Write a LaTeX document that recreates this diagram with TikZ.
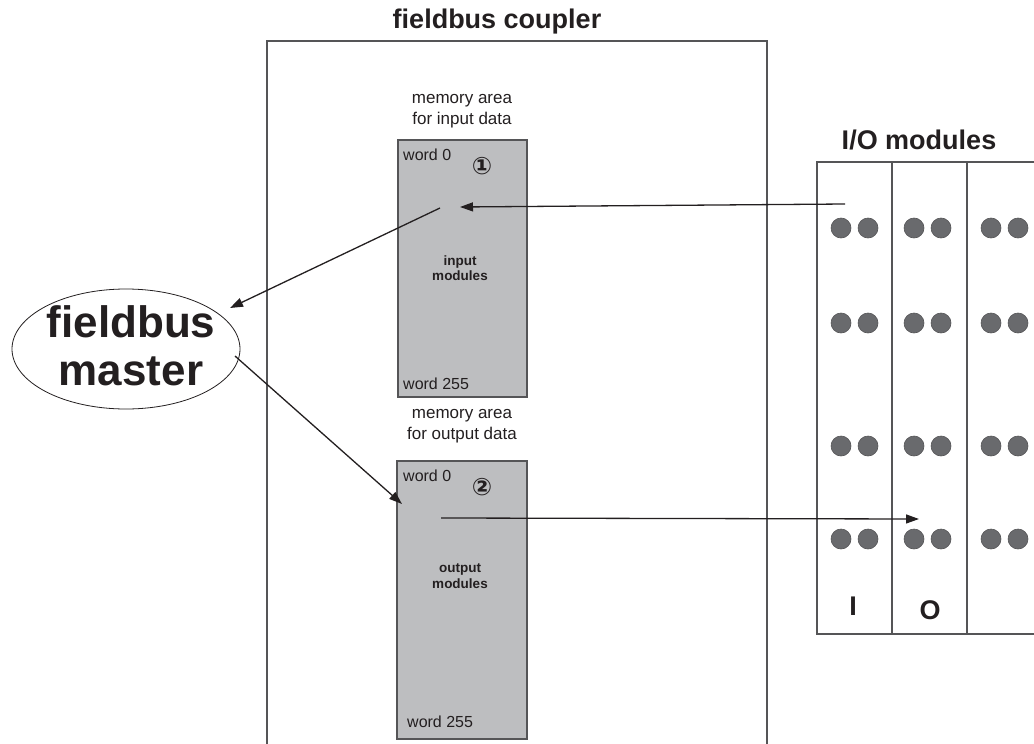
\documentclass[tikz,border=0pt]{standalone}
\usepackage{fontspec}
\setmainfont{Liberation Sans}
\newfontfamily\dejavu{DejaVu Sans}
\usetikzlibrary{arrows.meta,shapes.geometric}
\definecolor{boxgray}{RGB}{189,190,192}
\definecolor{edgegray}{RGB}{85,85,87}
\definecolor{dotgray}{RGB}{105,106,109}
\definecolor{txt}{RGB}{35,31,32}
\begin{document}
\begin{tikzpicture}[x=1pt,y=-1pt,
  frame/.style={draw=edgegray, line width=1.2pt},
  membox/.style={draw=edgegray, fill=boxgray, line width=1.5pt, anchor=north west, inner sep=0},
  lbl/.style={font=\fontsize{17}{21}\selectfont, text=txt, inner sep=0, align=center},
  wlbl/.style={font=\fontsize{16}{19}\selectfont, text=txt, inner sep=0, anchor=west},
  mlbl/.style={font=\bfseries\fontsize{13.5}{15.5}\selectfont, text=txt, inner sep=0, align=center},
  title/.style={font=\bfseries\fontsize{27}{30}\selectfont, text=txt, inner sep=0},
  big/.style={font=\bfseries\fontsize{27}{30}\selectfont, text=txt, inner sep=0},
  num/.style={font=\dejavu\bfseries\fontsize{24}{26}\selectfont, text=txt, inner sep=0},
  arr/.style={-{Triangle[length=13pt,width=9pt]}, line width=1.3pt, draw=txt},
  dot/.style={circle, draw=edgegray, fill=dotgray, line width=0.6pt, minimum size=20pt, inner sep=0}]
\useasboundingbox (0,0) rectangle (1034,744);
% fieldbus coupler frame
\node[title] (ctitle) at (497,22) {fieldbus coupler};
\draw[frame] (267,744) -- (267,41) -- (767,41) -- (767,744);
% input memory
\node[lbl] (inlbl) at (462,111) {memory area\\for input data};
\node[membox, minimum width=129pt, minimum height=257pt] (inbox) at (397,139) {};
\node[wlbl] (in0) at (403,155) {word 0};
\node[wlbl] (in255) at (403,384) {word 255};
\node[num] (n1) at (482,166) {①};
\node[mlbl] (inmod) at (460,268) {input\\modules};
% output memory
\node[lbl] (outlbl) at (462,426) {memory area\\for output data};
\node[membox, minimum width=130pt, minimum height=278pt] (outbox) at (396,460) {};
\node[wlbl] (out0) at (403,476) {word 0};
\node[wlbl] (out255) at (407,722) {word 255};
\node[num] (n2) at (482,487) {②};
\node[mlbl] (outmod) at (460,576) {output\\modules};
% fieldbus master
\node[ellipse, draw=txt, line width=0.8pt, minimum width=228pt, minimum height=120pt, inner sep=0] (master) at (126,349) {};
\node[font=\bfseries\fontsize{44}{48}\selectfont, text=txt, inner sep=0, align=center] (mtext) at (131,346) {fieldbus\\master};
% I/O modules
\node[big] (iotitle) at (919,140) {I/O modules};
\draw[frame] (1034,162) -- (817,162) -- (817,634) -- (1034,634);
\draw[frame] (892,162) -- (892,634);
\draw[frame] (967,162) -- (967,634);
\foreach \r/\y in {1/228,2/323,3/446,4/539}{
  \foreach \c/\x in {a/841,b/868,c/914,d/941,e/991,f/1018}{
    \node[dot] (d\c\r) at (\x,\y) {};
  }
}
\node[big] (ilbl) at (853,606) {I};
\node[big] (olbl) at (930,610) {O};
% connectors
\coordinate (a1s) at (845,204);
\coordinate (a1e) at (460,207);
\coordinate (a2s) at (440,208);
\coordinate (a2e) at (230,308);
\coordinate (a3s) at (235,356);
\coordinate (a3e) at (402,504);
\coordinate (a4s) at (441,518);
\coordinate (a4e) at (919,519);
\draw[arr] (a1s) -- (a1e);
\draw[arr] (a2s) -- (a2e);
\draw[arr] (a3s) -- (a3e);
\draw[arr] (a4s) -- (a4e);
\end{tikzpicture}
\end{document}
